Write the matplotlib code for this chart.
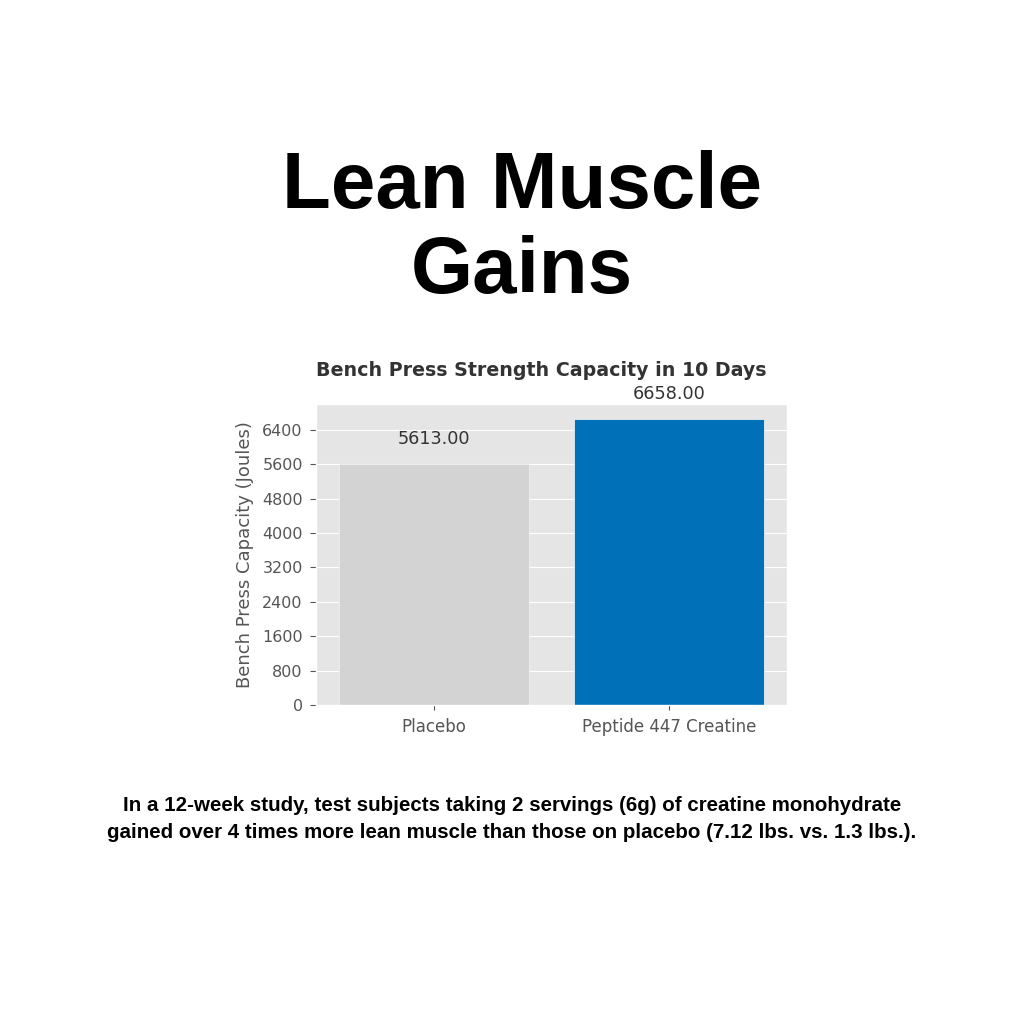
import matplotlib.pyplot as plt

# chart data
groups = ['Placebo', 'Peptide 447 Creatine']
capacity = [5613, 6658]
bar_colors = ['#d3d3d3', '#0070b9']
yticks = [0, 800, 1600, 2400, 3200, 4000, 4800, 5600, 6400]

plt.style.use('ggplot')

fig = plt.figure(figsize=(10.24, 10.24), dpi=100)
fig.patch.set_facecolor('white')

# big headline
fig.text(0.51, 0.775, 'Lean Muscle\nGains', ha='center', va='center',
         fontsize=57.5, fontweight='bold', family='Liberation Sans',
         linespacing=1.17, color='black')

ax = fig.add_axes([0.3086, 0.3115, 0.46, 0.2940])
bars = ax.bar(groups, capacity, color=bar_colors, width=0.805, edgecolor='#eeeeee', linewidth=0.6)
ax.set_xlim(-0.5, 1.5)
ax.set_ylim(0, 7000)
ax.set_yticks(yticks)
ax.grid(False, axis='x')
ax.tick_params(axis='both', labelsize=11.5, colors='#555555', labelcolor='#555555')
ax.tick_params(axis='y', pad=5.5, length=4)
ax.tick_params(axis='x', labelsize=12, pad=6)
ax.set_ylabel('Bench Press Capacity (Joules)', fontsize=13, color='#555555', labelpad=6)

# title is a bit left of the axes centre in the original
ax.text(0.478, 1.112, 'Bench Press Strength Capacity in 10 Days', transform=ax.transAxes,
        ha='center', va='center', fontsize=13.7, fontweight='bold', color='#333333')

for b, v in zip(bars, capacity):
    ax.annotate(f'{v:.2f}', (b.get_x() + b.get_width() / 2, v),
                xytext=(0, 11), textcoords='offset points',
                ha='center', va='bottom', fontsize=12.7, color='#333333')

caption = ('In a 12-week study, test subjects taking 2 servings (6g) of creatine monohydrate\n'
           'gained over 4 times more lean muscle than those on placebo (7.12 lbs. vs. 1.3 lbs.).')
fig.text(0.5, 0.2, caption, ha='center', va='center', fontsize=14.75,
         fontweight='bold', family='Liberation Sans',
         linespacing=1.5, color='black')

fig.savefig('out.png', dpi=100, facecolor='white')
